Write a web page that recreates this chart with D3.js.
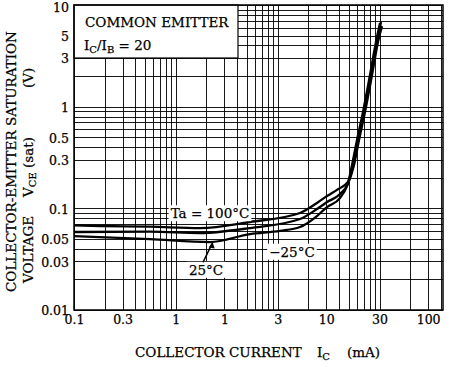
<!DOCTYPE html>
<html><head><meta charset="utf-8">
<script src="https://cdn.jsdelivr.net/npm/d3@7"></script>
<style>body{margin:0;background:#fff}svg{display:block}text{font-family:"DejaVu Serif",serif;fill:#000;stroke:#000;stroke-width:0.25px}</style>
</head><body><svg id="c" width="452" height="367"></svg>
<script>
// Axis ticks (positions on a uniform log grid) and the labels printed at them
const xTickValues = [0.1, 0.3, 1, 3, 10, 30, 100, 300];
const xTickLabels = ["0.1", "0.3", "1", "1", "3", "10", "30", "100"];
const yTickValues = [0.01, 0.03, 0.05, 0.1, 0.3, 0.5, 1, 3, 5, 10];
const yTickLabels = ["0.01", "0.03", "0.05", "0.1", "0.3", "0.5", "1", "3", "5", "10"];

// Curves (x in grid units, y in volts)
const icHot  = [0.1, 0.18, 0.557, 1.727, 5.35, 16.56, 24.3, 30.5, 38.2, 49.0, 53.7, 60.1, 68.8, 80.6, 92.3, 101.1];
const vceHot = [0.068, 0.067, 0.066, 0.064, 0.0734, 0.090, 0.113, 0.132, 0.152, 0.182, 0.267, 0.47, 0.886, 2.05, 4.33, 6.65];
const icCold  = [0.1, 0.557, 1.727, 5.35, 16.56, 24.3, 30.5, 40.9, 49.0, 54.9, 61.5, 70.4, 82.5, 94.5, 103.4];
const vceCold = [0.0585, 0.0589, 0.0572, 0.064, 0.0785, 0.0985, 0.1153, 0.1382, 0.1773, 0.267, 0.47, 0.886, 2.05, 4.33, 6.8];
const icRoom  = [0.1, 0.557, 2.165, 5.35, 10.54, 16.56, 24.3, 30.5, 40.9, 49.0, 56.2, 62.9, 72.0, 84.4, 96.6, 105.8];
const vceRoom = [0.0534, 0.0499, 0.0466, 0.0559, 0.060, 0.0655, 0.084, 0.103, 0.126, 0.1734, 0.267, 0.47, 0.886, 2.05, 4.33, 6.2];

const series = [
  {name: "Ta = 100°C", ic: icHot, v: vceHot},
  {name: "−25°C", ic: icCold, v: vceCold},
  {name: "25°C", ic: icRoom, v: vceRoom}
];

const svg = d3.select("#c");
const P = {l: 74, r: 443, t: 5, b: 310};
const x = d3.scaleLog().domain([0.1, 420]).range([P.l, P.r]);
const y = d3.scaleLog().domain([0.01, 10]).range([P.b, P.t]);

svg.append("rect").attr("width", 452).attr("height", 367).attr("fill", "#fff");

// grid
const xGrid = [], yGrid = [];
for (let n = -1; n <= 2; n++) for (let m = 1; m <= 9; m++) { const v = m * Math.pow(10, n); if (v >= 0.1 && v <= 420) xGrid.push(v); }
for (let n = -2; n <= 0; n++) for (let m = 1; m <= 9; m++) yGrid.push(m * Math.pow(10, n));
yGrid.push(10);
const g = svg.append("g").attr("stroke", "#000").attr("shape-rendering", "crispEdges");
g.selectAll("line.vx").data(xGrid).join("line")
  .attr("x1", d => Math.round(x(d)) + 0.5).attr("x2", d => Math.round(x(d)) + 0.5)
  .attr("y1", P.t).attr("y2", P.b).attr("stroke-width", 1).attr("stroke-opacity", 0.9);
g.selectAll("line.hy").data(yGrid).join("line")
  .attr("y1", d => Math.round(y(d)) + 0.5).attr("y2", d => Math.round(y(d)) + 0.5)
  .attr("x1", P.l).attr("x2", P.r).attr("stroke-width", 1).attr("stroke-opacity", 0.9);

// legend box
const lg = svg.append("g");
lg.append("rect").attr("x", P.l).attr("y", P.t).attr("width", 164).attr("height", 53)
  .attr("fill", "#fff").attr("stroke", "#000").attr("stroke-width", 1.2);
lg.append("text").attr("x", 85).attr("y", 27).attr("font-size", 13.5).text("COMMON EMITTER");
const t2 = lg.append("text").attr("x", 84).attr("y", 50).attr("font-size", 13.5);
t2.append("tspan").text("I");
t2.append("tspan").attr("dy", 3).attr("font-size", 10).text("C");
t2.append("tspan").attr("dy", -3).text("/I");
t2.append("tspan").attr("dy", 3).attr("font-size", 10).text("B");
t2.append("tspan").attr("dy", -3).text(" = 20");

// curves
const line = d3.line().x(d => x(d[0])).y(d => y(d[1])).curve(d3.curveMonotoneX);
svg.append("g").selectAll("path").data(series).join("path")
  .attr("d", s => line(s.ic.map((c, i) => [c, s.v[i]])))
  .attr("fill", "none").attr("stroke", "#000").attr("stroke-width", 2.3).attr("stroke-linejoin", "round");

// annotations
function label(txt, cx, cy, fs) {
  const gg = svg.append("g");
  const r = gg.append("rect").attr("fill", "#fff");
  const t = gg.append("text").attr("x", cx).attr("y", cy).attr("text-anchor", "middle")
    .attr("dy", "0.35em").attr("font-size", fs).text(txt);
  const b = t.node().getBBox();
  r.attr("x", b.x - 2).attr("y", b.y).attr("width", b.width + 4).attr("height", b.height);
}
label(series[0].name, x(2.165), y(0.089), 13.5);
label(series[1].name, x(13.8), y(0.0372), 13.5);
label(series[2].name, x(1.98), y(0.0247), 13.5);
// leader arrow for 25°C
svg.append("line").attr("x1", x(1.85)).attr("y1", y(0.0295)).attr("x2", x(2.3)).attr("y2", y(0.0462))
  .attr("stroke", "#000").attr("stroke-width", 1.6);
svg.append("path").attr("d", () => {
  const tx = x(2.3), ty = y(0.0462);
  return `M${tx},${ty} l-4,5 l6,1 z`;
}).attr("fill", "#000");

// axes
const ax = svg.append("g").attr("transform", `translate(0,${P.b})`)
  .call(d3.axisBottom(x).tickValues(xTickValues).tickFormat((d, i) => xTickLabels[i]).tickSize(0).tickPadding(5));
const ay = svg.append("g").attr("transform", `translate(${P.l},0)`)
  .call(d3.axisLeft(y).tickValues(yTickValues).tickFormat((d, i) => yTickLabels[i]).tickSize(0).tickPadding(5));
[ax, ay].forEach(a => { a.select(".domain").remove(); a.selectAll("text").attr("font-family", "DejaVu Serif").attr("font-size", 12.5).attr("fill", "#000"); });
ay.selectAll("text").attr("dy", d => d === 10 ? "0.55em" : "0.38em");

// frame
svg.append("rect").attr("x", P.l).attr("y", P.t).attr("width", P.r - P.l).attr("height", P.b - P.t)
  .attr("fill", "none").attr("stroke", "#000").attr("stroke-width", 1.5);

// titles
const xt = svg.append("text").attr("x", 135).attr("y", 357).attr("font-size", 13.5);
xt.append("tspan").text("COLLECTOR CURRENT");
xt.append("tspan").attr("x", 317).text("I");
xt.append("tspan").attr("dy", 3).attr("font-size", 10).text("C");
xt.append("tspan").attr("dy", -3).attr("x", 347).text("(mA)");

svg.append("text").attr("transform", "translate(16,292) rotate(-90)").attr("font-size", 13.5)
  .text("COLLECTOR-EMITTER SATURATION");
svg.append("text").attr("transform", "translate(33,283) rotate(-90)").attr("font-size", 13.5).text("VOLTAGE");
const vt = svg.append("text").attr("transform", "translate(33,197) rotate(-90)").attr("font-size", 13.5);
vt.append("tspan").text("V");
vt.append("tspan").attr("dy", 3).attr("font-size", 10).text("CE");
vt.append("tspan").attr("dy", -3).text(" (sat)");
svg.append("text").attr("transform", "translate(33,88) rotate(-90)").attr("font-size", 13.5).text("(V)");
</script></body></html>
